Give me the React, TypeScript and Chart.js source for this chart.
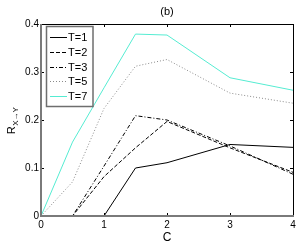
import React, { useEffect, useRef } from "react";
import { Chart, registerables } from "chart.js";

Chart.register(...registerables);

const xValues = [0, 0.5, 1, 1.5, 2, 3, 4];
const seriesLabels = ["T=1", "T=2", "T=3", "T=5", "T=7"];
const t1 = [0, 0, 0, 0.1, 0.111, 0.149, 0.143];
const t2 = [0, 0, 0.082, 0.142, 0.197, 0.142, 0.091];
const t3 = [0, 0, 0.104, 0.209, 0.2, 0.146, 0.087];
const t5 = [0, 0.071, 0.224, 0.312, 0.326, 0.256, 0.235];
const t7 = [0, 0.154, 0.267, 0.379, 0.377, 0.288, 0.262];
const xTicks = [0, 1, 2, 3, 4];
const yTicks = [0, 0.1, 0.2, 0.3, 0.4];
const titleText = "(b)";
const xTitle = "C";
const yTitleMain = "R";
const yTitleSub = "X\u2192Y";

const FONT = '"Liberation Sans", Arial, Helvetica, sans-serif';

const styles = [
  { color: "#000000", dash: [] as number[] },
  { color: "#000000", dash: [4, 2] },
  { color: "#000000", dash: [4, 2, 1, 2] },
  { color: "#8a8a8a", dash: [1, 2] },
  { color: "#55ecd2", dash: [] as number[] },
];

const series = [t1, t2, t3, t5, t7];

const decorPlugin = {
  id: "decor",
  afterDatasetsDraw(chart: any) {
    const ctx = chart.ctx;
    const { left, right, top, bottom } = chart.chartArea;
    const xs = chart.scales.x;
    const ys = chart.scales.y;
    ctx.save();
    // inner ticks
    ctx.lineWidth = 1;
    ctx.strokeStyle = "#000";
    ctx.setLineDash([]);
    const tl = 3;
    xTicks.forEach((v) => {
      const px = Math.round(xs.getPixelForValue(v)) + 0.5;
      ctx.beginPath();
      ctx.moveTo(px, top);
      ctx.lineTo(px, top + tl);
      ctx.moveTo(px, bottom);
      ctx.lineTo(px, bottom - tl);
      ctx.stroke();
    });
    yTicks.forEach((v) => {
      const py = Math.round(ys.getPixelForValue(v)) + 0.5;
      ctx.beginPath();
      ctx.moveTo(left, py);
      ctx.lineTo(left + tl, py);
      ctx.moveTo(right, py);
      ctx.lineTo(right - tl, py);
      ctx.stroke();
    });
    // box
    ctx.strokeStyle = "#000";
    ctx.lineWidth = 1;
    ctx.beginPath();
    ctx.moveTo(left, top + 0.5);
    ctx.lineTo(right + 0.5, top + 0.5);
    ctx.lineTo(right + 0.5, bottom);
    ctx.stroke();
    ctx.strokeStyle = "#7a7a7a";
    ctx.lineWidth = 2;
    ctx.beginPath();
    ctx.moveTo(left, top);
    ctx.lineTo(left, bottom);
    ctx.lineTo(right + 1, bottom);
    ctx.stroke();

    // legend
    const lx = 46.5, ly = 26.5, lw = 46.5, lh = 80;
    ctx.fillStyle = "#fff";
    ctx.fillRect(lx, ly, lw, lh);
    ctx.strokeStyle = "#6e6e6e";
    ctx.lineWidth = 1.5;
    ctx.strokeRect(lx, ly, lw, lh);
    ctx.font = "11px " + FONT;
    ctx.textAlign = "left";
    ctx.textBaseline = "middle";
    chart.data.datasets.forEach((ds: any, i: number) => {
      const cy = Math.round(37.3 + i * 14.6) + 0.5;
      ctx.strokeStyle = ds.borderColor;
      ctx.lineWidth = 1;
      ctx.setLineDash(ds.borderDash || []);
      ctx.beginPath();
      ctx.moveTo(50, cy);
      ctx.lineTo(67, cy);
      ctx.stroke();
      ctx.setLineDash([]);
      ctx.fillStyle = "#000";
      ctx.fillText(ds.label, 68, cy + 0.5);
    });

    // titles
    ctx.fillStyle = "#000";
    ctx.font = "11px " + FONT;
    ctx.textAlign = "center";
    ctx.textBaseline = "alphabetic";
    ctx.fillText(titleText, (left + right) / 2, 15);
    ctx.font = "12px " + FONT;
    ctx.fillText(xTitle, (left + right) / 2, 241);

    // y title rotated
    ctx.translate(15, 121);
    ctx.rotate(-Math.PI / 2);
    ctx.textAlign = "left";
    ctx.font = "11px " + FONT;
    const rw = ctx.measureText(yTitleMain).width;
    ctx.font = "8px " + FONT;
    const sw = ctx.measureText(yTitleSub).width;
    const start = -(rw + sw) / 2;
    ctx.font = "11px " + FONT;
    ctx.fillText(yTitleMain, start, 0);
    ctx.font = "8px " + FONT;
    ctx.fillText(yTitleSub, start + rw + 0.5, 3);
    ctx.restore();
  },
};

export default function App() {
  const canvasRef = useRef<HTMLCanvasElement | null>(null);
  useEffect(() => {
    if (!canvasRef.current) return;
    const chart = new Chart(canvasRef.current, {
      type: "line",
      data: {
        datasets: series.map((vals, i) => ({
          label: seriesLabels[i],
          data: xValues.map((x, j) => ({ x, y: vals[j] })),
          borderColor: styles[i].color,
          backgroundColor: styles[i].color,
          borderDash: styles[i].dash,
          borderWidth: 1,
          pointRadius: 0,
          tension: 0,
          fill: false,
        })),
      },
      options: {
        animation: false,
        responsive: false,
        devicePixelRatio: 1,
        layout: { padding: { left: 0, top: 24, right: 6, bottom: 0 } },
        plugins: {
          legend: { display: false },
          tooltip: { enabled: false },
          title: { display: false },
        },
        scales: {
          x: {
            type: "linear",
            min: 0,
            max: 4,
            afterBuildTicks: (s: any) => {
              s.ticks = xTicks.map((v) => ({ value: v }));
            },
            afterFit: (s: any) => {
              s.height = 29;
            },
            grid: { display: false, drawTicks: false },
            border: { display: false },
            ticks: {
              padding: 3,
              color: "#000",
              font: { family: FONT, size: 10 },
              maxRotation: 0,
              callback: (v: any) => String(v),
            },
          },
          y: {
            type: "linear",
            min: 0,
            max: 0.4,
            afterBuildTicks: (s: any) => {
              s.ticks = yTicks.map((v) => ({ value: v }));
            },
            afterFit: (s: any) => {
              s.width = 41;
            },
            grid: { display: false, drawTicks: false },
            border: { display: false },
            ticks: {
              padding: 2,
              color: "#000",
              font: { family: FONT, size: 10 },
              callback: (v: any) => (v === 0 ? "0" : Number(v).toFixed(1)),
            },
          },
        },
      },
      plugins: [decorPlugin],
    } as any);
    return () => chart.destroy();
  }, []);
  return (
    <div style={{ position: "absolute", left: 0, top: 0, width: 299, height: 245, background: "#fff" }}>
      <canvas ref={canvasRef} width={299} height={245} style={{ width: 299, height: 245, display: "block" }} />
    </div>
  );
}
